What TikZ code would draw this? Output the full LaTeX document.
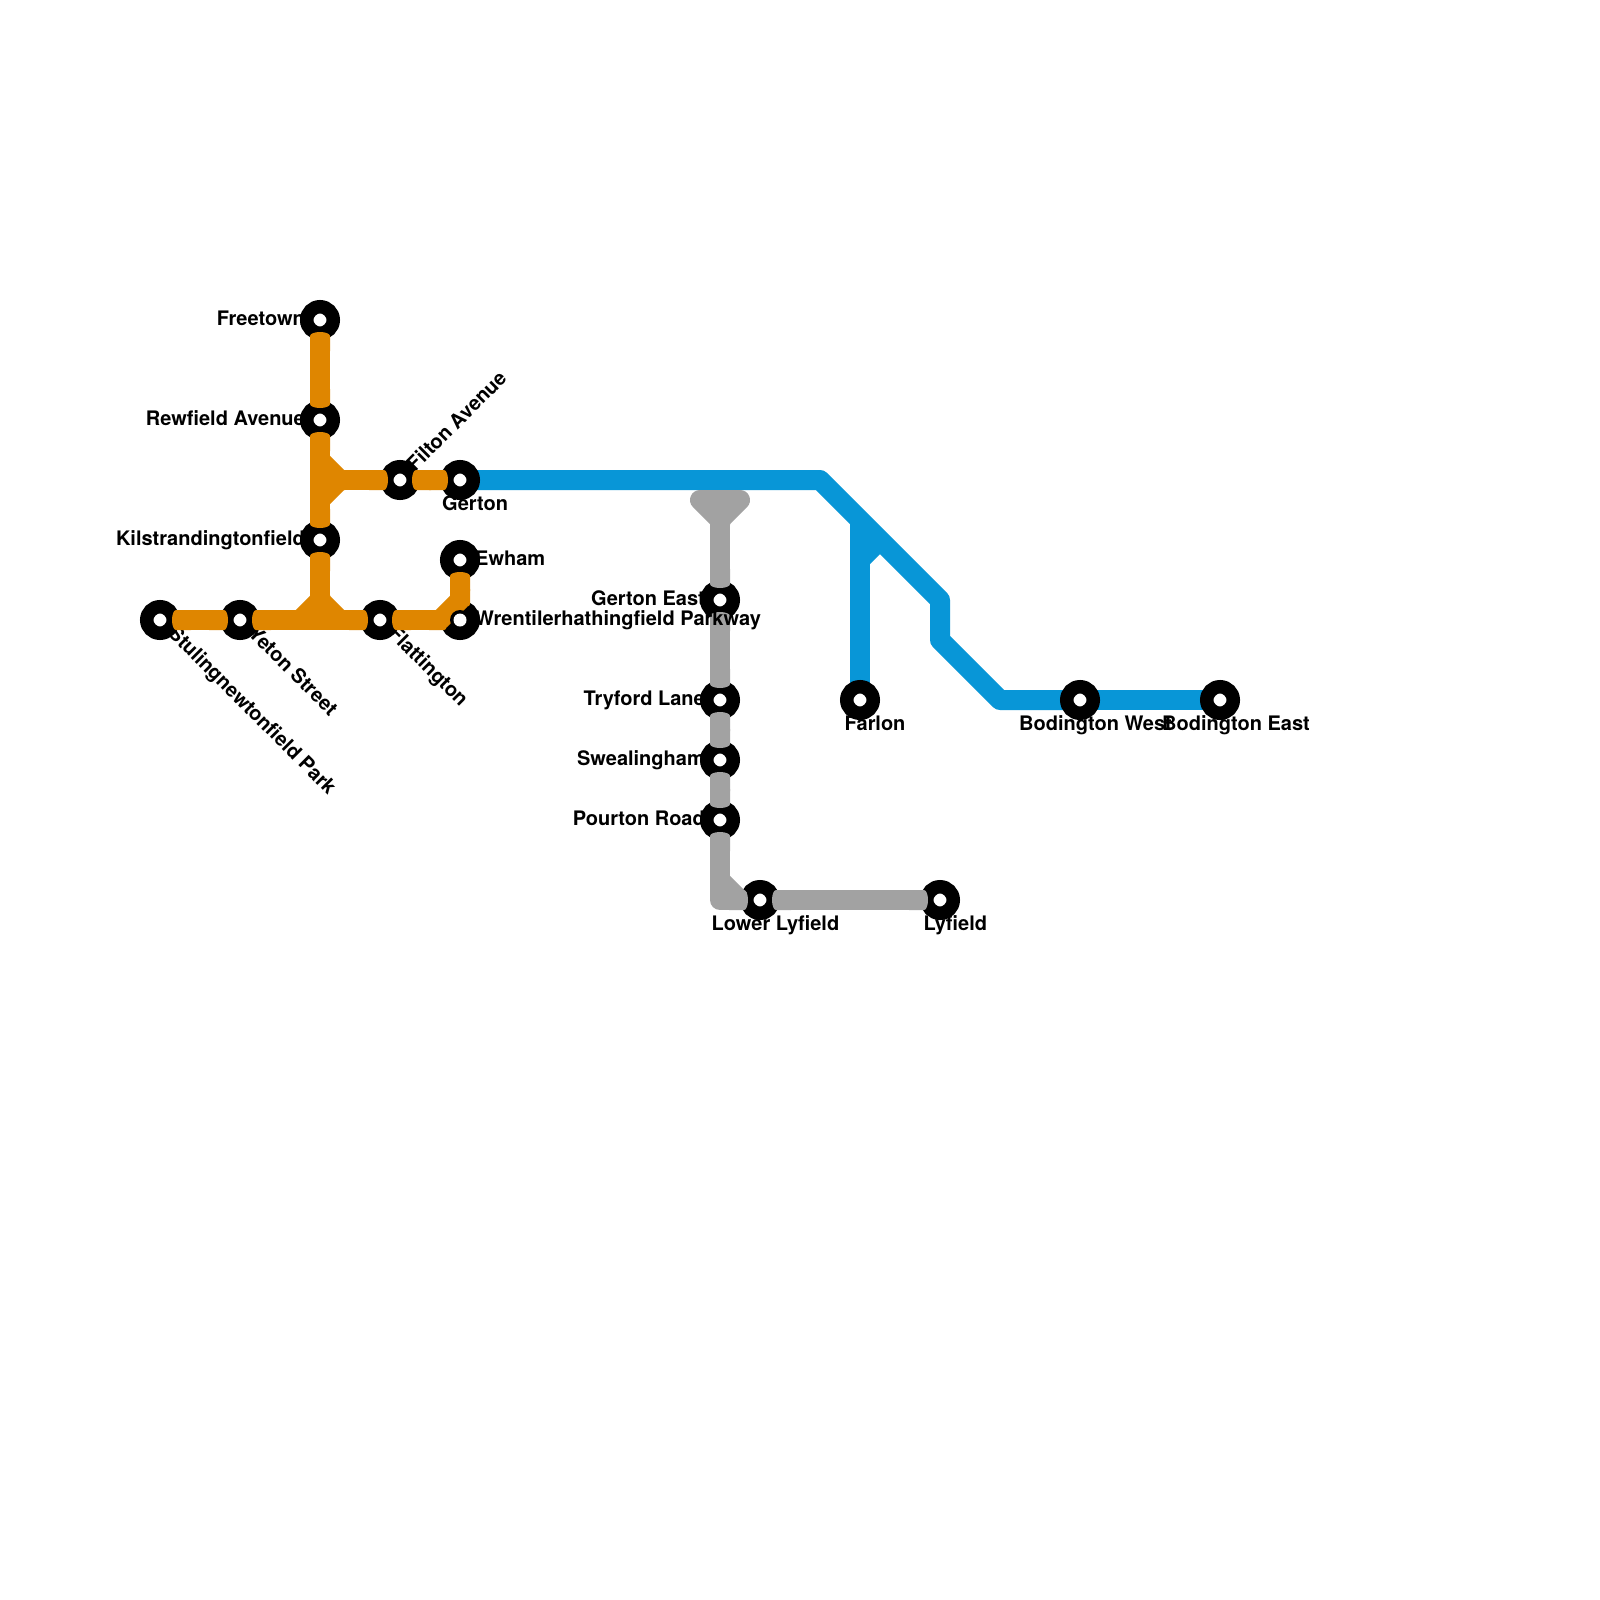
\documentclass[tikz,border=0pt]{standalone}
\usepackage{fontspec}
\setmainfont{TeX Gyre Heros}
\usetikzlibrary{arrows.meta}
\pgfdeclarelayer{under}
\pgfsetlayers{under,main}
\definecolor{lineblue}{HTML}{0896D7}
\definecolor{lineorange}{HTML}{DF8600}
\definecolor{linegray}{HTML}{A2A2A2}
\tikzset{
  station/.style={circle,draw=black,fill=white,line width=13.5pt,minimum size=26.5pt,inner sep=0pt,outer sep=-1.25pt},
  track/.style={line width=20pt,line join=round,{Round Cap[length=4pt]}-{Round Cap[length=4pt]}},
  plain track/.style={line width=20pt,line join=round},
  lbl/.style={font=\bfseries\fontsize{20}{24}\selectfont,inner sep=0pt,text=black},
  lblr/.style={lbl,anchor=base east},
  lbll/.style={lbl,anchor=base west},
}
\begin{document}
\begin{tikzpicture}[x=1pt,y=-1pt]
\useasboundingbox (0,0) rectangle (1600,1600);
\begin{pgfonlayer}{under}
\fill[white] (0,0) rectangle (1600,1600);
\end{pgfonlayer}
% stations
\node[station] (fr) at (320,320) {};
\node[station] (rw) at (320,420) {};
\node[station] (ki) at (320,540) {};
\node[station] (fi) at (400,480) {};
\node[station] (ge) at (460,480) {};
\node[station] (ew) at (460,560) {};
\node[station] (wr) at (460,620) {};
\node[station] (fl) at (380,620) {};
\node[station] (ye) at (240,620) {};
\node[station] (st) at (160,620) {};
\node[station] (gs) at (720,600) {};
\node[station] (tr) at (720,700) {};
\node[station] (sw) at (720,760) {};
\node[station] (po) at (720,820) {};
\node[station] (ll) at (760,900) {};
\node[station] (ly) at (940,900) {};
\node[station] (fa) at (860,700) {};
\node[station] (bw) at (1080,700) {};
\node[station] (be) at (1220,700) {};
% helper points
\coordinate (b1) at (820,480);
\coordinate (b2) at (940,600);
\coordinate (b3) at (940,640);
\coordinate (b4) at (1000,700);
\coordinate (s0) at (860,520);
\coordinate (s1) at (860,560);
\coordinate (s2) at (880,540);
\coordinate (g0) at (720,500);
\coordinate (g1) at (700,500);
\coordinate (g2) at (740,500);
\coordinate (g3) at (720,520);
\coordinate (g4) at (720,900);
\coordinate (g5) at (720,880);
\coordinate (g6) at (740,900);
\coordinate (o0) at (320,480);
\coordinate (o1) at (320,460);
\coordinate (o2) at (340,480);
\coordinate (o3) at (320,500);
\coordinate (o4) at (320,620);
\coordinate (o5) at (300,620);
\coordinate (o6) at (320,600);
\coordinate (o7) at (340,620);
\coordinate (o8) at (440,620);
\coordinate (o9) at (460,600);
% blue line, under the stations
\begin{pgfonlayer}{under}
\draw[plain track,lineblue] (ge) -- (b1) -- (b2) -- (b3) -- (b4) -- (bw);
\draw[plain track,lineblue] (bw) -- (be);
\draw[plain track,lineblue] (s0) -- (fa);
\draw[plain track,lineblue] (s1) -- (s2);
\end{pgfonlayer}
% grey line
\draw[plain track,linegray] (g1) -- (g2) -- (g3) -- cycle;
\draw[track,linegray,{Butt Cap}-{Round Cap[length=4pt]}] (g0) -- (gs);
\draw[track,linegray] (gs) -- (tr);
\draw[track,linegray] (tr) -- (sw);
\draw[track,linegray] (sw) -- (po);
\draw[track,linegray] (po) -- (g4) -- (ll);
\draw[plain track,linegray] (g5) -- (g6);
\draw[track,linegray] (ll) -- (ly);
% labels
\node[lblr] (lfr) at (305,325.5) {Freetown};
\node[lblr] (lrw) at (305,425) {Rewfield Avenue};
\node[lblr] (lki) at (305,545.5) {Kilstrandingtonfield};
\node[lbll,rotate=45] (lfi) at (415,472.5) {Filton Avenue};
\node[lbll] (lge) at (442,510) {Gerton};
\node[lbll] (lew) at (475,565.5) {Ewham};
\node[lbll] (lwr) at (475,625.5) {Wrentilerhathingfield Parkway};
\node[lbll,rotate=-45] (lst) at (167,634.5) {Stulingnewtonfield Park};
\node[lbll,rotate=-45] (lye) at (247,634.5) {Yeton Street};
\node[lbll,rotate=-45] (lfl) at (387,634.5) {Flattington};
\node[lblr] (lgs) at (705,605.5) {Gerton East};
\node[lblr] (ltr) at (705,705.5) {Tryford Lane};
\node[lblr] (lsw) at (705,765.5) {Swealingham};
\node[lblr] (lpo) at (705,825.5) {Pourton Road};
\node[lbll] (lll) at (711.5,930) {Lower Lyfield};
\node[lbll] (lly) at (923.5,930) {Lyfield};
\node[lbll] (lfa) at (844.5,730) {Farlon};
\node[lbll] (lbw) at (1019,730) {Bodington West};
\node[lbll] (lbe) at (1162,730) {Bodington East};
% orange line
\draw[track,lineorange] (fr) -- (rw);
\draw[track,lineorange] (rw) -- (ki);
\draw[plain track,lineorange] (o1) -- (o2) -- (o3);
\draw[track,lineorange,{Butt Cap}-{Round Cap[length=4pt]}] (o0) -- (fi);
\draw[track,lineorange] (fi) -- (ge);
\draw[track,lineorange,{Round Cap[length=4pt]}-{Butt Cap}] (ki) -- (o4);
\draw[track,lineorange] (st) -- (ye);
\draw[track,lineorange] (ye) -- (fl);
\draw[plain track,lineorange] (o5) -- (o6) -- (o7);
\draw[track,lineorange] (fl) -- (wr);
\draw[track,lineorange] (ew) -- (wr);
\draw[plain track,lineorange] (o8) -- (o9);
\fill[black] (wr) circle (10);
\fill[white] (wr) circle (6.5);
\end{tikzpicture}
\end{document}
